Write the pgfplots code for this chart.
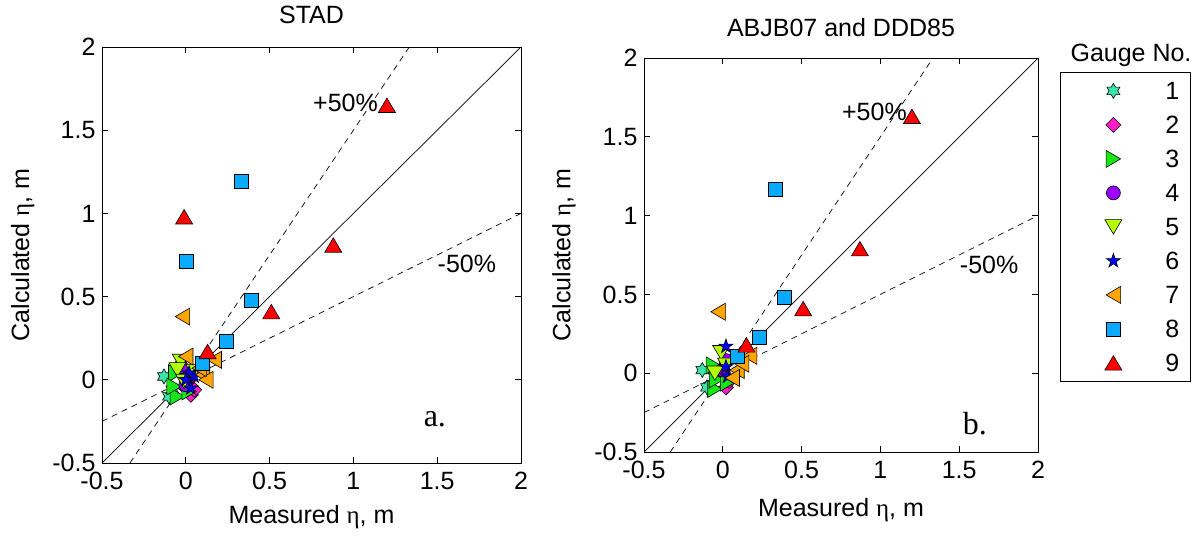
\documentclass[border=0pt]{standalone}
\usepackage{pgfplots}
\pgfplotsset{compat=1.18}
\usepackage{fontspec}
\setmainfont{Liberation Sans}
\newfontfamily\seriffont{Liberation Serif}

\definecolor{g1}{RGB}{60,228,170}
\definecolor{g2}{RGB}{255,30,200}
\definecolor{g3}{RGB}{25,230,25}
\definecolor{g4}{RGB}{153,0,255}
\definecolor{g5}{RGB}{180,255,0}
\definecolor{g6}{RGB}{0,0,255}
\definecolor{g7}{RGB}{255,165,0}
\definecolor{g8}{RGB}{10,170,255}
\definecolor{g9}{RGB}{255,0,0}

\pgfdeclareplotmark{hexf}{%
  \pgfpathmoveto{\pgfqpointpolar{90}{\pgfplotmarksize}}%
  \pgfpathlineto{\pgfqpointpolar{120}{0.577\pgfplotmarksize}}%
  \pgfpathlineto{\pgfqpointpolar{150}{\pgfplotmarksize}}%
  \pgfpathlineto{\pgfqpointpolar{180}{0.577\pgfplotmarksize}}%
  \pgfpathlineto{\pgfqpointpolar{210}{\pgfplotmarksize}}%
  \pgfpathlineto{\pgfqpointpolar{240}{0.577\pgfplotmarksize}}%
  \pgfpathlineto{\pgfqpointpolar{270}{\pgfplotmarksize}}%
  \pgfpathlineto{\pgfqpointpolar{300}{0.577\pgfplotmarksize}}%
  \pgfpathlineto{\pgfqpointpolar{330}{\pgfplotmarksize}}%
  \pgfpathlineto{\pgfqpointpolar{0}{0.577\pgfplotmarksize}}%
  \pgfpathlineto{\pgfqpointpolar{30}{\pgfplotmarksize}}%
  \pgfpathlineto{\pgfqpointpolar{60}{0.577\pgfplotmarksize}}%
  \pgfpathclose\pgfusepathqfillstroke}
\pgfdeclareplotmark{pentf}{%
  \pgfpathmoveto{\pgfqpointpolar{90}{\pgfplotmarksize}}%
  \pgfpathlineto{\pgfqpointpolar{126}{0.382\pgfplotmarksize}}%
  \pgfpathlineto{\pgfqpointpolar{162}{\pgfplotmarksize}}%
  \pgfpathlineto{\pgfqpointpolar{198}{0.382\pgfplotmarksize}}%
  \pgfpathlineto{\pgfqpointpolar{234}{\pgfplotmarksize}}%
  \pgfpathlineto{\pgfqpointpolar{270}{0.382\pgfplotmarksize}}%
  \pgfpathlineto{\pgfqpointpolar{306}{\pgfplotmarksize}}%
  \pgfpathlineto{\pgfqpointpolar{342}{0.382\pgfplotmarksize}}%
  \pgfpathlineto{\pgfqpointpolar{18}{\pgfplotmarksize}}%
  \pgfpathlineto{\pgfqpointpolar{54}{0.382\pgfplotmarksize}}%
  \pgfpathclose\pgfusepathqfillstroke}
\pgfdeclareplotmark{diaf}{%
  \pgfpathmoveto{\pgfqpoint{0pt}{\pgfplotmarksize}}%
  \pgfpathlineto{\pgfqpoint{\pgfplotmarksize}{0pt}}%
  \pgfpathlineto{\pgfqpoint{0pt}{-\pgfplotmarksize}}%
  \pgfpathlineto{\pgfqpoint{-\pgfplotmarksize}{0pt}}%
  \pgfpathclose\pgfusepathqfillstroke}
\pgfdeclareplotmark{triup}{%
  \pgfpathmoveto{\pgfqpoint{0pt}{0.85\pgfplotmarksize}}%
  \pgfpathlineto{\pgfqpoint{\pgfplotmarksize}{-0.85\pgfplotmarksize}}%
  \pgfpathlineto{\pgfqpoint{-\pgfplotmarksize}{-0.85\pgfplotmarksize}}%
  \pgfpathclose\pgfusepathqfillstroke}
\pgfdeclareplotmark{tridown}{%
  \pgfpathmoveto{\pgfqpoint{0pt}{-0.85\pgfplotmarksize}}%
  \pgfpathlineto{\pgfqpoint{\pgfplotmarksize}{0.85\pgfplotmarksize}}%
  \pgfpathlineto{\pgfqpoint{-\pgfplotmarksize}{0.85\pgfplotmarksize}}%
  \pgfpathclose\pgfusepathqfillstroke}
\pgfdeclareplotmark{triright}{%
  \pgfpathmoveto{\pgfqpoint{0.85\pgfplotmarksize}{0pt}}%
  \pgfpathlineto{\pgfqpoint{-0.85\pgfplotmarksize}{\pgfplotmarksize}}%
  \pgfpathlineto{\pgfqpoint{-0.85\pgfplotmarksize}{-\pgfplotmarksize}}%
  \pgfpathclose\pgfusepathqfillstroke}
\pgfdeclareplotmark{trileft}{%
  \pgfpathmoveto{\pgfqpoint{-0.85\pgfplotmarksize}{0pt}}%
  \pgfpathlineto{\pgfqpoint{0.85\pgfplotmarksize}{\pgfplotmarksize}}%
  \pgfpathlineto{\pgfqpoint{0.85\pgfplotmarksize}{-\pgfplotmarksize}}%
  \pgfpathclose\pgfusepathqfillstroke}

\newcommand{\fs}{\fontsize{25}{28}\selectfont}

\pgfplotsset{
  myax/.style={
    scale only axis,
    xmin=-0.5, xmax=2, ymin=-0.5, ymax=2,
    xtick={-0.5,0,0.5,1,1.5,2}, ytick={-0.5,0,0.5,1,1.5,2},
    xticklabels={-0.5,0,0.5,1,1.5,2}, yticklabels={-0.5,0,0.5,1,1.5,2},
    xtick pos=both, ytick pos=both,
    xticklabel pos=lower, yticklabel pos=left,
    tick align=inside, major tick length=6pt,
    axis line style={line width=0.9pt, black},
    tick style={line width=0.9pt, black},
    xticklabel style={font=\fs, yshift=-6pt},
    yticklabel style={font=\fs, xshift=-3pt},
    label style={font=\fs},
    title style={font=\fs},
    legend style={font=\fs},
  },
  gm/.style={only marks, draw=black, line width=0.6pt,
    legend image code/.code={%
      \pgfpathmoveto{\pgfqpoint{0pt}{0pt}}\pgfpathlineto{\pgfqpoint{88pt}{0pt}}\pgfusepath{discard}%
      \draw[##1, only marks] plot coordinates {(44pt,0pt)};}},
  m1/.style={gm, fill=g1, mark=hexf, mark size=7.5pt},
  m2/.style={gm, fill=g2, mark=diaf, mark size=7.5pt},
  m3/.style={gm, fill=g3, mark=triright, mark size=8.5pt},
  m4/.style={gm, fill=g4, mark=*, mark size=7pt},
  m5/.style={gm, fill=g5, mark=tridown, mark size=8.5pt},
  m6/.style={gm, fill=g6, mark=pentf, mark size=7.5pt},
  m7/.style={gm, fill=g7, mark=trileft, mark size=8.5pt},
  m8/.style={gm, fill=g8, mark=square*, mark size=7pt},
  m9/.style={gm, fill=g9, mark=triup, mark size=8.5pt},
  refl/.style={black, line width=0.7pt, forget plot},
  refd/.style={black, line width=0.7pt, dash pattern=on 6pt off 5pt, forget plot},
}

\begin{document}
\begin{tikzpicture}
\useasboundingbox (0,0) rectangle (1202pt,539pt);

% ---------------- left: STAD
\begin{axis}[myax,
  at={(102pt,76pt)}, anchor=south west,
  width=419pt, height=416pt,
  title={STAD},
  title style={at={(axis description cs:0.5,1)}, anchor=center, yshift=26pt},
  xlabel={Measured {\seriffont η}, m},
  ylabel={Calculated {\seriffont η}, m},
  xlabel style={at={(axis description cs:0.5,-0.130)}, anchor=center},
  ylabel style={at={(axis description cs:-0.189,0.5)}, anchor=center},
]
\addplot[refl] coordinates {(-0.5,-0.5) (2,2)};
\addplot[refd] coordinates {(-0.3333,-0.5) (1.3333,2)};
\addplot[refd] coordinates {(-0.5,-0.25) (2,1)};
\addplot[m1] coordinates {(-0.13,0.02) (-0.10,-0.10) (-0.08,-0.06)};
\addplot[m2] coordinates {(0.03,-0.09) (0.0,-0.05) (0.05,-0.06) (0.02,0.0)};
\addplot[m3] coordinates {(-0.06,0.04) (-0.05,-0.10) (-0.07,-0.04) (0.02,-0.07)};
\addplot[m4] coordinates {(-0.03,0.08) (0.02,0.02) (0.0,-0.03)};
\addplot[m5] coordinates {(-0.03,0.11) (-0.05,0.06) (-0.01,-0.01) (0.05,0.05)};
\addplot[m6] coordinates {(0.02,0.04) (0.03,-0.05) (0.05,0.02) (0.0,0.0)};
\addplot[m7] coordinates {(-0.02,0.38) (0.0,0.14) (0.17,0.12) (0.10,0.03) (0.12,0.0) (0.08,0.07)};
\addplot[m8] coordinates {(0.33,1.19) (0.0,0.71) (0.39,0.48) (0.24,0.23) (0.10,0.10)};
\addplot[m9] coordinates {(1.20,1.65) (-0.01,0.98) (0.88,0.81) (0.51,0.41) (0.13,0.17)};
\node[font=\fs] at (axis cs:0.953,1.663) {+50\%};
\node[font=\fs] at (axis cs:1.677,0.696) {-50\%};
\node[font=\seriffont\fontsize{32}{36}\selectfont] at (axis cs:1.486,-0.234) {a.};
\end{axis}

% ---------------- right: ABJB07 and DDD85
\begin{axis}[myax,
  at={(644pt,87pt)}, anchor=south west,
  width=394pt, height=394pt,
  title={ABJB07 and DDD85},
  title style={at={(axis description cs:0.5,1)}, anchor=center, yshift=24pt},
  xlabel={Measured {\seriffont η}, m},
  ylabel={Calculated {\seriffont η}, m},
  xlabel style={at={(axis description cs:0.5,-0.147)}, anchor=center},
  ylabel style={at={(axis description cs:-0.203,0.5)}, anchor=center},
  legend style={at={(axis description cs:1.0558,0.9645)}, anchor=north west,
    draw=black, line width=0.8pt, inner xsep=9pt, inner ysep=10pt,
    row sep=17pt, column sep=6pt,
    nodes={inner xsep=2pt, inner ysep=0pt, text height=17pt, text depth=0pt}},
  legend cell align=left,
]
\addplot[refl] coordinates {(-0.5,-0.5) (2,2)};
\addplot[refd] coordinates {(-0.3333,-0.5) (1.3333,2)};
\addplot[refd] coordinates {(-0.5,-0.25) (2,1)};
\addplot[m1] coordinates {(-0.13,0.02) (-0.10,-0.09)};
\addlegendentry{1}
\addplot[m2] coordinates {(0.02,-0.09) (0.04,-0.05) (0.0,-0.02)};
\addlegendentry{2}
\addplot[m3] coordinates {(-0.06,0.05) (-0.05,-0.10) (-0.04,-0.04) (0.03,-0.06)};
\addlegendentry{3}
\addplot[m4] coordinates {(0.02,0.08) (0.0,0.02)};
\addlegendentry{4}
\addplot[m5] coordinates {(-0.01,0.13) (-0.05,0.0) (0.02,0.05)};
\addlegendentry{5}
\addplot[m6] coordinates {(0.02,0.17) (0.02,0.04) (0.03,-0.02)};
\addlegendentry{6}
\addplot[m7] coordinates {(-0.03,0.39) (0.17,0.11) (0.09,0.02) (0.06,-0.03) (0.12,0.06)};
\addlegendentry{7}
\addplot[m8] coordinates {(0.33,1.17) (0.39,0.48) (0.23,0.23) (0.09,0.11)};
\addlegendentry{8}
\addplot[m9] coordinates {(1.20,1.63) (0.87,0.79) (0.51,0.41) (0.15,0.18)};
\addlegendentry{9}
\node[font=\fs] at (axis cs:0.962,1.657) {+50\%};
\node[font=\fs] at (axis cs:1.69,0.686) {-50\%};
\node[font=\seriffont\fontsize{32}{36}\selectfont] at (axis cs:1.60,-0.317) {b.};
\end{axis}

\node[font=\fs] at (1131pt,484pt) {Gauge No.};
\end{tikzpicture}
\end{document}
